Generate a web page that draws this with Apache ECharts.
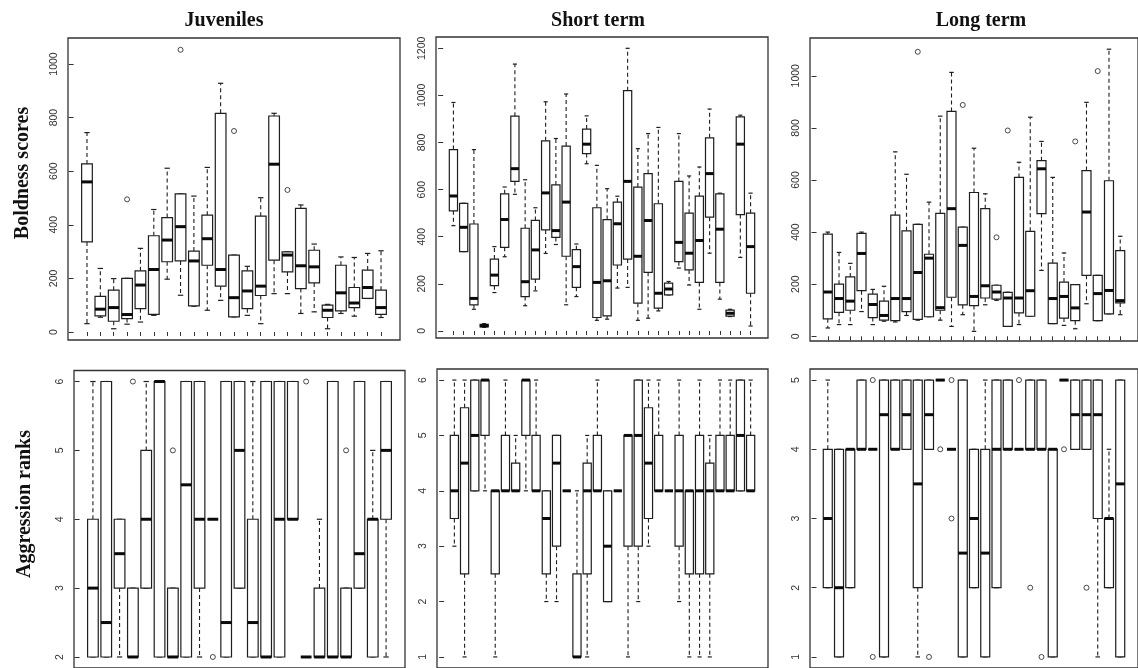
<!DOCTYPE html>
<html>
<head>
<meta charset="utf-8">
<script src="https://cdn.jsdelivr.net/npm/echarts@6/dist/echarts.min.js"></script>
<style>
  html, body { margin: 0; padding: 0; background: #fff; }
  #chart { width: 1138px; height: 668px; }
</style>
</head>
<body>
<div id="chart"></div>
<script>
// ---------- DATA: each box = [lower whisker, Q1, median, Q3, upper whisker] ----------
const panelTitles = ['Juveniles', 'Short term', 'Long term'];
const rowNames = ['Boldness scores', 'Aggression ranks'];

const juvBold = [
  [31,336,560,627,744],[55,60,85,133,237],[12,40,91,156,199],[29,50,65,200,200],
  [37,87,175,228,312],[62,66,233,359,457],[197,262,343,427,611],[137,265,393,515,515],
  [96,97,265,302,507],[81,249,348,436,614],[118,171,233,816,928],[56,56,128,287,287],
  [62,87,153,228,245],[31,136,171,432,501],[143,268,626,806,816],[143,224,287,299,299],
  [69,162,247,461,474],[75,183,243,305,328],[12,54,81,100,103],[69,79,146,249,280],
  [59,91,108,166,278],[125,125,166,231,293],[54,66,91,156,303]
];
const juvBoldOut = [[4,495],[8,1053],[12,750],[16,530]];

const shortBold = [
  [447,510,573,770,970],[337,337,440,542,542],[92,111,138,454,770],[15,17,22,28,31],
  [163,192,237,305,358],[315,355,473,582,611],[580,635,689,912,1133],[107,146,209,436,642],
  [170,220,344,469,523],[329,429,586,807,973],[367,397,426,620,817],[111,317,547,785,1006],
  [146,185,273,345,369],[710,753,793,857,913],[45,57,206,523,703],[50,64,213,473,604],
  [182,280,455,547,572],[185,305,635,1020,1200],[45,118,317,611,774],[54,249,469,668,838],
  [85,97,160,540,864],[153,153,178,203,210],[267,294,376,635,838],[195,259,330,500,658],
  [92,206,384,572,696],[330,483,668,820,942],[135,206,432,582,585],[61,63,75,88,92],
  [312,494,793,909,916],[21,160,358,500,585]
];
const shortBoldOut = [];

const longBold = [
  [32,67,170,392,400],[45,92,145,200,322],[45,100,135,228,280],[95,175,318,395,400],
  [45,72,122,162,180],[58,62,80,135,192],[55,60,145,465,708],[80,95,145,405,622],
  [62,65,245,430,430],[75,75,300,315,515],[62,100,110,472,845],[38,150,490,863,1013],
  [83,121,349,419,419],[19,118,153,552,722],[121,147,194,490,547],[138,143,170,196,196],
  [38,38,147,169,169],[45,90,147,610,668],[77,77,175,403,841],[253,471,643,674,748],
  [49,49,145,281,610],[42,70,153,208,320],[29,60,109,198,198],[125,234,477,636,898],
  [60,60,164,234,234],[86,86,176,597,1102],[83,128,137,329,384]
];
const longBoldOut = [[9,1092],[13,888],[16,380],[17,790],[23,748],[25,1018]];

const juvAggr = [
  [2,2,3,4,6],[2,2,2.5,6,6],[2,3,3.5,4,4],[2,2,2,3,3],[3,3,4,5,6],[2,2,6,6,6],
  [2,2,2,3,3],[2,2,4.5,6,6],[2,3,4,6,6],[4,4,4,4,4],[2,2,2.5,6,6],[3,3,5,6,6],
  [2,2,2.5,4,6],[2,2,2,6,6],[2,2,4,6,6],[4,4,4,6,6],[2,2,2,2,2],[2,2,2,3,4],
  [2,2,2,6,6],[2,2,2,3,3],[3,3,3.5,6,6],[2,2,4,4,5],[2,4,5,6,6]
];
const juvAggrOut = [[4,6],[7,5],[10,2],[17,6],[20,5]];

const shortAggr = [
  [3,3.5,4,5,6],[1,2.5,4.5,5.5,6],[4,4,5,6,6],[4,5,6,6,6],[1,2.5,4,4,4],[4,4,4,5,6],
  [4,4,4,4.5,5],[4,5,6,6,6],[4,4,4,5,6],[2,2.5,3.5,4,4],[2,3,4.5,5,5],[4,4,4,4,4],
  [1,1,1,2.5,4],[1,2.5,4,4.5,5],[4,4,4,5,6],[2,2,3,4,4],[4,4,4,4,4],[1,3,5,5,5],
  [2,3,5,6,6],[3,3.5,4.5,5.5,6],[4,4,4,5,6],[4,4,4,4,4],[2,3,4,5,6],[1,2.5,4,4,4],
  [1,2.5,4,5,6],[1,2.5,4,4.5,5],[4,4,4,5,6],[4,4,4,5,6],[4,4,5,6,6],[4,4,4,5,6]
];
const shortAggrOut = [];

const longAggr = [
  [2,2,3,4,5],[1,1,2,4,4],[2,2,4,4,4],[4,4,4,5,5],[4,4,4,4,4],[1,1,4.5,5,5],
  [4,4,4,5,5],[4,4,4.5,5,5],[1,2,3.5,5,5],[4,4,4.5,5,5],[5,5,5,5,5],[4,4,4,4,4],
  [1,1,2.5,5,5],[2,2,3,4,4],[1,1,2.5,4,5],[2,2,4,5,5],[4,4,4,5,5],[4,4,4,4,4],
  [4,4,4,5,5],[4,4,4,5,5],[1,1,4,4,4],[5,5,5,5,5],[4,4,4.5,5,5],[4,4,4.5,5,5],
  [1,3,4.5,5,5],[2,2,3,3,4],[1,1,3.5,5,5]
];
const longAggrOut = [[5,5],[5,1],[10,1],[11,4],[12,5],[12,3],[18,5],[19,2],[20,1],[22,4],[24,2]];

const boldTicks1000 = [0,200,400,600,800,1000];
const boldTicks1200 = [0,200,400,600,800,1000,1200];
const aggrTicksJuv = [2,3,4,5,6];
const aggrTicksShort = [1,2,3,4,5,6];
const aggrTicksLong = [1,2,3,4,5];

// ---------- LAYOUT ----------
const panels = [
  { box: juvBold,   out: juvBoldOut,   ticks: boldTicks1000,  yMin: -30,  yMax: 1097, grid: {left: 68,  top: 38,  width: 332, height: 302} },
  { box: shortBold, out: shortBoldOut, ticks: boldTicks1200,  yMin: -30,  yMax: 1248, grid: {left: 436, top: 37,  width: 332, height: 301} },
  { box: longBold,  out: longBoldOut,  ticks: boldTicks1000,  yMin: -18,  yMax: 1145, grid: {left: 810, top: 38,  width: 336, height: 303} },
  { box: juvAggr,   out: juvAggrOut,   ticks: aggrTicksJuv,   yMin: 1.84, yMax: 6.16, grid: {left: 74,  top: 370.5, width: 331, height: 300} },
  { box: shortAggr, out: shortAggrOut, ticks: aggrTicksShort, yMin: 0.8,  yMax: 6.2,  grid: {left: 437, top: 369, width: 331, height: 299} },
  { box: longAggr,  out: longAggrOut,  ticks: aggrTicksLong,  yMin: 0.84, yMax: 5.16, grid: {left: 810, top: 369, width: 336, height: 302} }
];

const INK = '#1e1e1e';

function renderBox(params, api) {
  const x = api.value(0);
  const lo = api.value(1), q1 = api.value(2), md = api.value(3), q3 = api.value(4), hi = api.value(5);
  const half = api.size([0.4, 0])[0];
  const cap = api.size([0.2, 0])[0];
  const pLo = api.coord([x, lo]), pQ1 = api.coord([x, q1]), pMd = api.coord([x, md]);
  const pQ3 = api.coord([x, q3]), pHi = api.coord([x, hi]);
  const cx = pMd[0];
  const dash = { stroke: INK, lineWidth: 1.1, lineDash: [4, 3], fill: null };
  const solid = { stroke: INK, lineWidth: 1.2, fill: null };
  return {
    type: 'group',
    children: [
      { type: 'line', shape: { x1: cx, y1: pQ3[1], x2: cx, y2: pHi[1] }, style: dash },
      { type: 'line', shape: { x1: cx, y1: pQ1[1], x2: cx, y2: pLo[1] }, style: dash },
      { type: 'line', shape: { x1: cx - cap, y1: pHi[1], x2: cx + cap, y2: pHi[1] }, style: solid },
      { type: 'line', shape: { x1: cx - cap, y1: pLo[1], x2: cx + cap, y2: pLo[1] }, style: solid },
      { type: 'rect', shape: { x: cx - half, y: pQ3[1], width: 2 * half, height: pQ1[1] - pQ3[1] },
        style: { fill: '#fff', stroke: INK, lineWidth: 1.2 } },
      { type: 'line', shape: { x1: cx - half, y1: pMd[1], x2: cx + half, y2: pMd[1] },
        style: { stroke: '#0a0a0a', lineWidth: 3 } }
    ]
  };
}

const grids = [], xAxes = [], yAxes = [], series = [];
panels.forEach((p, i) => {
  const n = p.box.length;
  grids.push(Object.assign({ show: true, borderColor: '#333', borderWidth: 1.3, backgroundColor: 'transparent', containLabel: false }, p.grid));
  xAxes.push({
    type: 'value', gridIndex: i,
    min: 0.5 - 0.04 * n, max: n + 0.5 + 0.04 * n,
    axisLine: { show: false }, splitLine: { show: false },
    axisLabel: { show: false },
    axisTick: { show: true, length: 4, customValues: p.box.map((_, k) => k + 1), lineStyle: { color: '#333', width: 1 } }
  });
  yAxes.push({
    type: 'value', gridIndex: i, min: p.yMin, max: p.yMax,
    axisLine: { show: false }, splitLine: { show: false },
    axisTick: { show: true, length: 5, customValues: p.ticks, lineStyle: { color: '#333', width: 1 } },
    axisLabel: { show: true, customValues: p.ticks, rotate: 90, margin: 8, fontSize: 10.5,
                 formatter: (v) => String(v),
                 fontFamily: '"Liberation Sans", Arial, sans-serif', color: '#333' }
  });
  series.push({
    type: 'custom', xAxisIndex: i, yAxisIndex: i,
    renderItem: renderBox,
    encode: { x: 0, y: [1, 2, 3, 4, 5] },
    data: p.box.map((b, k) => [k + 1].concat(b)),
    animation: false, silent: true
  });
  series.push({
    type: 'scatter', xAxisIndex: i, yAxisIndex: i,
    data: p.out, symbol: 'circle', symbolSize: 5,
    itemStyle: { color: 'transparent', borderColor: INK, borderWidth: 1 },
    animation: false, silent: true, z: 5
  });
});

const serif = 'bold 20px "Liberation Serif", "Times New Roman", serif';
const graphics = [
  { type: 'text', x: 224, y: 21, style: { text: panelTitles[0], font: serif, fill: '#111', align: 'center', verticalAlign: 'middle', textAlign: 'center', textVerticalAlign: 'middle' } },
  { type: 'text', x: 598, y: 21, style: { text: panelTitles[1], font: serif, fill: '#111', align: 'center', verticalAlign: 'middle', textAlign: 'center', textVerticalAlign: 'middle' } },
  { type: 'text', x: 981, y: 21, style: { text: panelTitles[2], font: serif, fill: '#111', align: 'center', verticalAlign: 'middle', textAlign: 'center', textVerticalAlign: 'middle' } },
  { type: 'text', x: 23, y: 173, rotation: Math.PI / 2, style: { text: rowNames[0], font: serif, fill: '#111', align: 'center', verticalAlign: 'middle', textAlign: 'center', textVerticalAlign: 'middle' } },
  { type: 'text', x: 25, y: 504, rotation: Math.PI / 2, style: { text: rowNames[1], font: serif, fill: '#111', align: 'center', verticalAlign: 'middle', textAlign: 'center', textVerticalAlign: 'middle' } }
];

const chart = echarts.init(document.getElementById('chart'), null, { renderer: 'canvas' });
chart.setOption({
  animation: false,
  backgroundColor: '#fff',
  grid: grids, xAxis: xAxes, yAxis: yAxes, series: series,
  graphic: graphics
});
</script>
</body>
</html>
